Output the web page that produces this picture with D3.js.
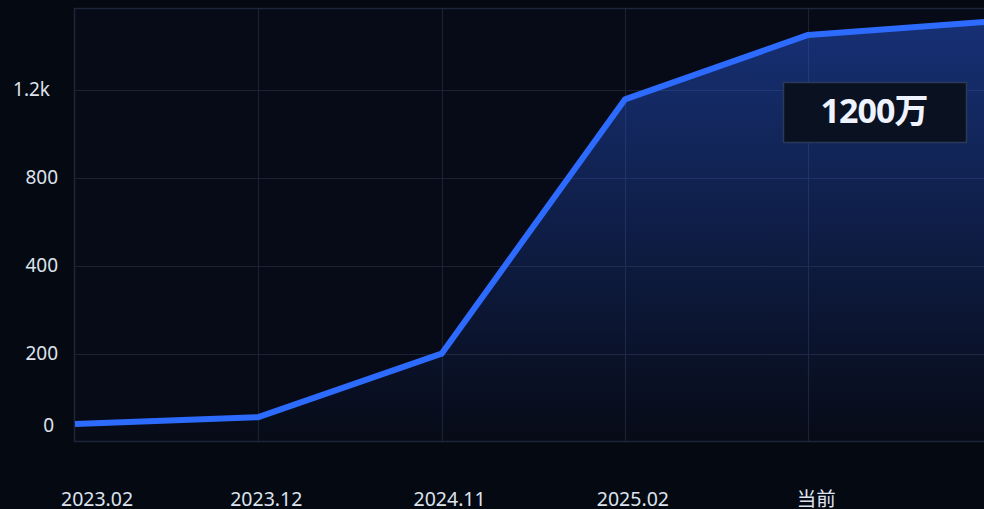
<!DOCTYPE html>
<html>
<head>
<meta charset="utf-8">
<script src="https://cdn.jsdelivr.net/npm/d3@7/dist/d3.min.js"></script>
<style>
    html, body { margin: 0; padding: 0; background: #050912; overflow: hidden; }
    svg { display: block; }
    text { font-family: "Noto Sans", "Noto Sans CJK SC", sans-serif; }
</style>
</head>
<body>
<div id="chart"></div>
<script>
//==========================================================================================
// Data
//==========================================================================================
var categories = ["2023.02", "2023.12", "2024.11", "2025.02", "当前", ""];
var values = [3, 22, 200, 1156, 1449, 1510];
var yTicks = [0, 200, 400, 800, 1200];
var yTickBreaks = [0, 200, 400, 800, 1200];
var calloutText = "1200万";

(function(){
    "use strict";

    var width = 984;
    var height = 509;
    var margin = { top: 9, left: 75, bottom: 441 };
    var step = 183.3;

    var svg = d3.select("#chart")
        .append("svg")
        .attr("width", width)
        .attr("height", height)
        .attr("viewBox", "0 0 " + width + " " + height);

    //------------------------------------------------------------------------------------------
    // Scales (the y axis is piecewise: 0-200 is squeezed, the rest evenly spaced)
    //------------------------------------------------------------------------------------------
    var x = d3.scalePoint()
        .domain(categories)
        .range([margin.left, margin.left + step * (categories.length - 1)]);

    var y = d3.scaleLinear()
        .domain(yTickBreaks)
        .range([425, 353.7, 265.7, 177.7, 89.7]);

    //------------------------------------------------------------------------------------------
    // Plot background + frame
    //------------------------------------------------------------------------------------------
    svg.append("rect")
        .attr("x", margin.left)
        .attr("y", margin.top)
        .attr("width", width - margin.left + 10)
        .attr("height", margin.bottom - margin.top)
        .attr("fill", "#070b17");

    //------------------------------------------------------------------------------------------
    // Grid
    //------------------------------------------------------------------------------------------
    var grid = svg.append("g").attr("stroke", "#1a2233").attr("stroke-width", 1.2);

    grid.selectAll(".hgrid")
        .data(yTicks.filter(function(d) { return d > 0; }))
        .enter()
        .append("line")
        .attr("x1", margin.left)
        .attr("x2", width)
        .attr("y1", function(d) { return Math.round(y(d)) + 0.5; })
        .attr("y2", function(d) { return Math.round(y(d)) + 0.5; });

    grid.selectAll(".vgrid")
        .data(categories.slice(1))
        .enter()
        .append("line")
        .attr("x1", function(d) { return Math.round(x(d)) + 0.5; })
        .attr("x2", function(d) { return Math.round(x(d)) + 0.5; })
        .attr("y1", margin.top)
        .attr("y2", margin.bottom);

    //------------------------------------------------------------------------------------------
    // Area gradient + area + line
    //------------------------------------------------------------------------------------------
    var grad = svg.append("defs")
        .append("linearGradient")
        .attr("id", "areaGrad")
        .attr("gradientUnits", "userSpaceOnUse")
        .attr("x1", 0).attr("x2", 0)
        .attr("y1", y(d3.max(values)))
        .attr("y2", margin.bottom);
    grad.append("stop").attr("offset", 0).attr("stop-color", "#2a5ee8").attr("stop-opacity", 0.45);
    grad.append("stop").attr("offset", 1).attr("stop-color", "#2a5ee8").attr("stop-opacity", 0);

    var points = values.map(function(v, i) { return [categories[i], v]; });

    svg.append("path")
        .datum(points)
        .attr("fill", "url(#areaGrad)")
        .attr("d", d3.area()
            .x(function(d) { return x(d[0]); })
            .y0(margin.bottom)
            .y1(function(d) { return y(d[1]); }));

    // frame on top of the area
    var frame = svg.append("g").attr("stroke", "#1e2639").attr("stroke-width", 1.5).attr("fill", "none");
    frame.append("path")
        .attr("d", "M" + width + "," + (margin.top - 0.5) + "H" + (margin.left - 0.5) +
            "V" + (margin.bottom + 0.5) + "H" + width);

    svg.append("path")
        .datum(points)
        .attr("fill", "none")
        .attr("stroke", "#2d6bff")
        .attr("stroke-width", 6)
        .attr("stroke-linejoin", "round")
        .attr("d", d3.line()
            .x(function(d) { return x(d[0]); })
            .y(function(d) { return y(d[1]); }));

    //------------------------------------------------------------------------------------------
    // Axes labels
    //------------------------------------------------------------------------------------------
    var yAxis = d3.axisLeft(y)
        .tickValues(yTicks)
        .tickSize(0)
        .tickPadding(0)
        .tickFormat(function(d) { return d >= 1000 ? d3.format(".2~s")(d) : d; });

    var yg = svg.append("g")
        .attr("transform", "translate(58,0)")
        .call(yAxis);
    yg.select(".domain").remove();
    yg.selectAll("text")
        .attr("fill", "#dde3ee")
        .attr("font-size", 19)
        .attr("font-family", "'Noto Sans', sans-serif")
        .attr("dx", function(d) { return d >= 1000 ? -8 : (d === 0 ? -4 : 0); });

    svg.append("g")
        .selectAll("text")
        .data(categories.filter(function(d) { return d !== ""; }))
        .enter()
        .append("text")
        .attr("x", function(d, i) { return i === 0 ? x(d) - 14 : x(d) + 8; })
        .attr("y", 506)
        .attr("text-anchor", function(d, i) { return i === 0 ? "start" : "middle"; })
        .attr("fill", "#dde3ee")
        .attr("font-size", 19.5)
        .text(function(d) { return d; });

    //------------------------------------------------------------------------------------------
    // Callout box
    //------------------------------------------------------------------------------------------
    var callout = svg.append("g");
    callout.append("rect")
        .attr("x", 783.5)
        .attr("y", 82.5)
        .attr("width", 183)
        .attr("height", 60)
        .attr("fill", "#0a1120")
        .attr("stroke", "#2b3a58")
        .attr("stroke-width", 1.5);
    callout.append("text")
        .attr("x", 874)
        .attr("y", 123)
        .attr("text-anchor", "middle")
        .attr("fill", "#eef3ff")
        .attr("font-size", 34)
        .attr("font-weight", "bold")
        .attr("letter-spacing", -1)
        .text(calloutText);

})();
</script>
</body>
</html>
